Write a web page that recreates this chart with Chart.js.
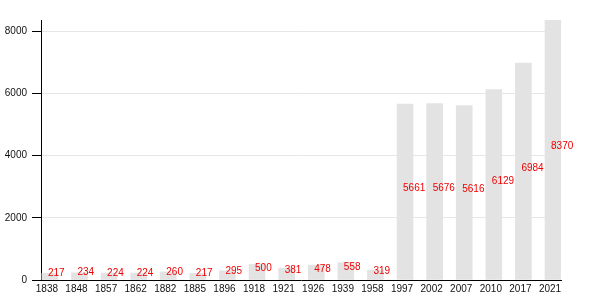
<!DOCTYPE html>
<html>
<head>
<meta charset="utf-8">
<script src="https://cdn.jsdelivr.net/npm/chart.js@4/dist/chart.umd.min.js"></script>
<style>
  html, body { margin: 0; padding: 0; background: #fff; }
  #wrap { width: 600px; height: 300px; }
</style>
</head>
<body>
<div id="wrap"><canvas id="chart"></canvas></div>
<script>
const years = ['1838', '1848', '1857', '1862', '1882', '1885', '1896', '1918', '1921',
  '1926', '1939', '1958', '1997', '2002', '2007', '2010', '2017', '2021'];
const population = [217, 234, 224, 224, 260, 217, 295, 500, 381,
  478, 558, 319, 5661, 5676, 5616, 6129, 6984, 8370];
const yTicks = [0, 2000, 4000, 6000, 8000];

// red value label next to the middle of each bar
const valueLabels = {
  id: 'valueLabels',
  afterDatasetsDraw(chart) {
    const ctx = chart.ctx;
    const meta = chart.getDatasetMeta(0);
    ctx.save();
    ctx.font = '10px "Liberation Sans", Arial, sans-serif';
    ctx.fillStyle = '#ee0000';
    ctx.textAlign = 'left';
    ctx.textBaseline = 'middle';
    meta.data.forEach((bar, i) => {
      const mid = (bar.y + bar.base) / 2 - 3.5;
      ctx.fillText(String(population[i]), bar.x - 2, mid);
    });
    ctx.restore();
  }
};

const ctx = document.getElementById('chart').getContext('2d');
new Chart(ctx, {
  type: 'bar',
  data: {
    datasets: [{
      data: population.map((v, i) => ({ x: i, y: v })),
      backgroundColor: '#e3e3e3',
      barThickness: 16
    }]
  },
  options: {
    responsive: true,
    maintainAspectRatio: false,
    animation: false,
    layout: { padding: { top: 20, right: 39, left: 0, bottom: 0 } },
    plugins: { legend: { display: false }, tooltip: { enabled: false } },
    scales: {
      x: {
        type: 'linear',
        offset: false,
        min: -0.3,
        max: 17.27,
        afterFit: (scale) => { scale.height = 20; },
        afterBuildTicks: (scale) => {
          scale.ticks = years.map((y, i) => ({ value: i }));
        },
        ticks: {
          autoSkip: false,
          maxRotation: 0,
          padding: 3,
          labelOffset: -3,
          color: '#111',
          font: { family: '"Liberation Sans", Arial, sans-serif', size: 10 },
          callback: (v) => years[v]
        },
        grid: { display: false, drawTicks: false },
        border: { display: true, color: '#000', width: 1 }
      },
      y: {
        min: 0,
        max: 8370,
        afterFit: (scale) => { scale.width = 41; },
        afterBuildTicks: (scale) => {
          scale.ticks = yTicks.map(v => ({ value: v }));
        },
        ticks: {
          padding: 5,
          color: '#111',
          font: { family: '"Liberation Sans", Arial, sans-serif', size: 10 },
          callback: (v) => String(v)
        },
        grid: { color: '#e6e6e6', tickColor: '#000', tickLength: 9 },
        border: { display: true, color: '#000', width: 1 }
      }
    }
  },
  plugins: [valueLabels]
});
</script>
</body>
</html>
